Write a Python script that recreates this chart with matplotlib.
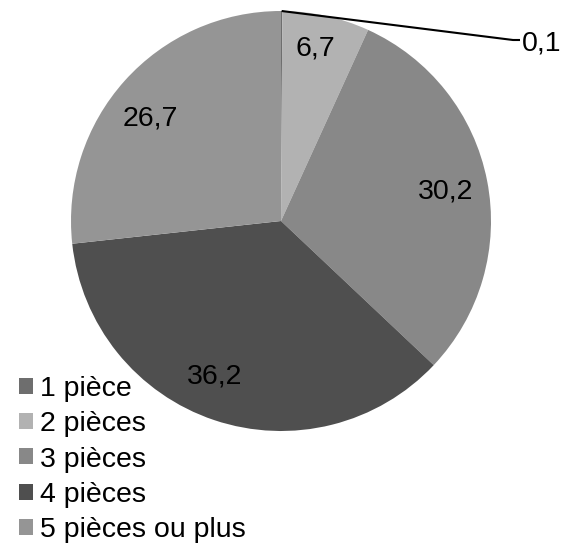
import numpy as np
import matplotlib.pyplot as plt
from matplotlib.patches import Patch

plt.rcParams['font.family'] = ['Liberation Sans', 'DejaVu Sans']

categories = ['1 pièce', '2 pièces', '3 pièces', '4 pièces', '5 pièces ou plus']
values = [0.1, 6.7, 30.2, 36.2, 26.7]
value_labels = ['0,1', '6,7', '30,2', '36,2', '26,7']
colors = ['#6e6e6e', '#b2b2b2', '#888888', '#4f4f4f', '#959595']

# label placement inside slices (radius fraction, angle shift in degrees)
label_dist = [None, 0.85, 0.80, 0.79, 0.80]
label_shift = [None, 1.5, 0, -5, 3]

FS = 20.5
W, H = 565, 545
fig = plt.figure(figsize=(W / 100, H / 100), dpi=100)
ax = fig.add_axes([0, 0, 1, 1])

cx, cy, r = 281, H - 221, 210
wedges, _ = ax.pie(values, colors=colors, startangle=90, counterclock=False,
                   center=(cx, cy), radius=r, frame=True,
                   wedgeprops=dict(linewidth=0))
ax.set_xlim(0, W)
ax.set_ylim(0, H)
ax.axis('off')

digit_h = 0.716 * FS * 100 / 72
for w, lab, d, s in zip(wedges[1:], value_labels[1:], label_dist[1:], label_shift[1:]):
    ang = np.deg2rad((w.theta1 + w.theta2) / 2 + s)
    x = cx + d * r * np.cos(ang)
    y = cy + d * r * np.sin(ang)
    ax.text(x, y - digit_h / 2, lab, ha='center', va='baseline', fontsize=FS, color='black')

# tiny slice with leader line
w0 = wedges[0]
ang0 = np.deg2rad((w0.theta1 + w0.theta2) / 2)
x0, y0 = cx + r * np.cos(ang0), cy + r * np.sin(ang0)
xt, yt = 513, H - 40
ax.plot([x0, xt, xt + 7], [y0, yt, yt], color='black', lw=1.5, solid_capstyle='butt')
ax.text(xt + 9, yt - digit_h / 2, value_labels[0], ha='left', va='baseline', fontsize=FS)

handles = [Patch(facecolor=c, edgecolor='none') for c in colors]
fig.legend(handles, categories, loc='lower left', bbox_to_anchor=(19 / W, 0.003),
           frameon=False, fontsize=FS, handlelength=0.49, handleheight=0.49,
           handletextpad=0.25, labelspacing=0.33, borderpad=0.0, borderaxespad=0.0)

fig.savefig('out.png', dpi=100, facecolor='white')
